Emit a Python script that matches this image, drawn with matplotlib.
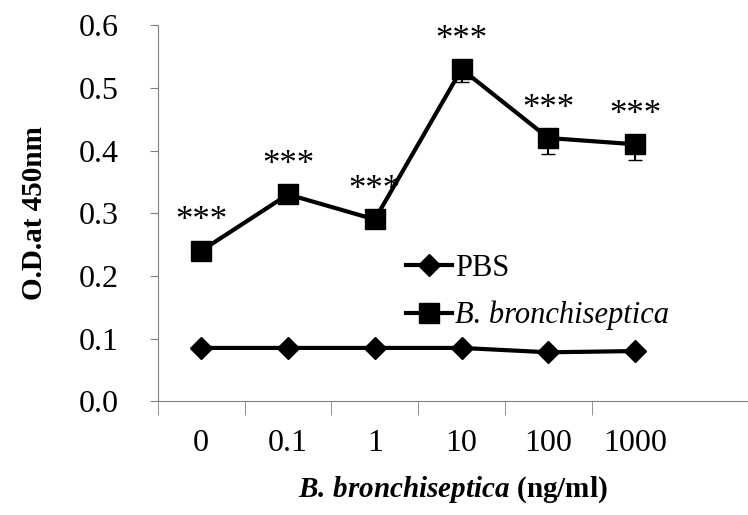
import matplotlib.pyplot as plt

plt.rcParams['font.family'] = ['Liberation Serif', 'DejaVu Serif']
plt.rcParams['mathtext.fontset'] = 'custom'
plt.rcParams['mathtext.rm'] = 'Liberation Serif'
plt.rcParams['mathtext.it'] = 'Liberation Serif:italic'
plt.rcParams['mathtext.bf'] = 'Liberation Serif:bold'
plt.rcParams['mathtext.bfit'] = 'Liberation Serif:italic:bold'

doses = ['0', '0.1', '1', '10', '100', '1000']
pbs = [0.085, 0.085, 0.085, 0.085, 0.078, 0.080]
bb = [0.24, 0.33, 0.29, 0.53, 0.42, 0.41]
bb_err = [0.01, 0.01, 0.01, 0.02, 0.025, 0.025]
stars = ['***'] * 6

x = list(range(len(doses)))

fig = plt.figure(figsize=(7.48, 5.15), dpi=100)
ax = fig.add_axes([0.211, 0.221, 0.789, 0.730])

ax.errorbar(x, bb, yerr=[bb_err, [0] * 6], fmt='none', ecolor='black',
            elinewidth=1.5, capsize=5)
ax.plot(x, pbs, color='black', marker='D', markersize=11, linewidth=3, label='PBS')
ax.plot(x, bb, color='black', marker='s', markersize=15, linewidth=3,
        label='B. bronchiseptica')

for xi, yi, s in zip(x, bb, stars):
    ax.annotate(s, (xi, yi), xytext=(0, 9), textcoords='offset points',
                ha='center', va='bottom', fontsize=25)

ax.set_xlim(-0.5, 6.3)
ax.set_ylim(0, 0.6)
ax.set_yticks([0, 0.1, 0.2, 0.3, 0.4, 0.5, 0.6])
ax.set_yticklabels(['0.0', '0.1', '0.2', '0.3', '0.4', '0.5', '0.6'], fontsize=23)
ax.set_xticks(x)
ax.set_xticklabels(doses, fontsize=23)
ax.set_xticks([-0.5, 0.5, 1.5, 2.5, 3.5, 4.5], minor=True)
ax.tick_params(axis='x', which='major', length=0, pad=20)
ax.tick_params(axis='x', which='minor', length=10, color='gray', direction='out')
ax.tick_params(axis='y', length=6, color='gray', direction='out', pad=22)

ax.spines['top'].set_visible(False)
ax.spines['right'].set_visible(False)
ax.spines['left'].set_color('gray')
ax.spines['bottom'].set_color('gray')

ax.set_ylabel('O.D.at 450nm', fontsize=21, fontweight='bold', labelpad=22)
ax.set_xlabel('$\\mathbfit{B.\\,bronchiseptica}$ (ng/ml)', fontsize=21,
              fontweight='bold', labelpad=12)

leg = ax.legend(loc='upper left', bbox_to_anchor=(0.40, 0.425), frameon=False, fontsize=22,
                handlelength=1.5, handletextpad=0.1, labelspacing=0.6, borderaxespad=0)
leg.get_texts()[1].set_fontstyle('italic')

fig.savefig('out.png', dpi=100)
